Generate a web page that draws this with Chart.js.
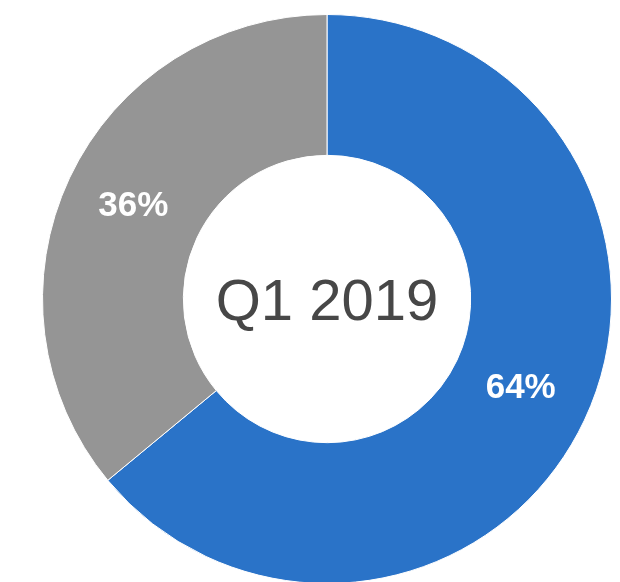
<!DOCTYPE html>
<html>
<head>
<meta charset="utf-8">
<script src="https://cdn.jsdelivr.net/npm/chart.js@4.4.1/dist/chart.umd.min.js"></script>
<style>
  html, body { margin: 0; padding: 0; background: #fff; overflow: hidden; width: 620px; height: 582px; }
  #wrap { position: absolute; left: 42px; top: 14px; width: 570px; height: 570px; }
</style>
</head>
<body>
<div id="wrap"><canvas id="donut"></canvas></div>
<script>
const labels = ['A', 'B'];
const values = [64, 36];
const colors = ['#2a73c8', '#959595'];
const centerText = 'Q1 2019';

// percent labels in the middle of each ring slice
const sliceLabels = {
    id: 'sliceLabels',
    afterDatasetsDraw(chart) {
        const ctx = chart.ctx;
        const meta = chart.getDatasetMeta(0);
        const total = values.reduce((a, b) => a + b, 0);
        ctx.save();
        ctx.fillStyle = '#ffffff';
        ctx.font = 'bold 35px "Liberation Sans", Arial, sans-serif';
        ctx.textAlign = 'center';
        ctx.textBaseline = 'middle';
        meta.data.forEach((arc, i) => {
            const pos = arc.tooltipPosition();
            ctx.fillText(Math.round(values[i] / total * 100) + '%', pos.x, pos.y - 2);
        });
        ctx.restore();
    }
};

const centerLabel = {
    id: 'centerLabel',
    afterDraw(chart) {
        const ctx = chart.ctx;
        const arc = chart.getDatasetMeta(0).data[0];
        ctx.save();
        ctx.fillStyle = '#474747';
        ctx.font = '58px "Liberation Sans", Arial, sans-serif';
        ctx.textAlign = 'center';
        ctx.textBaseline = 'middle';
        ctx.fillText(centerText, arc.x, arc.y + 5);
        ctx.restore();
    }
};

new Chart(document.getElementById('donut'), {
    type: 'doughnut',
    data: {
        labels: labels,
        datasets: [{
            data: values,
            backgroundColor: colors,
            borderColor: '#ffffff',
            borderWidth: 1
        }]
    },
    options: {
        responsive: true,
        maintainAspectRatio: false,
        animation: false,
        cutout: '50.5%',
        layout: { padding: 0 },
        plugins: {
            legend: { display: false },
            tooltip: { enabled: false }
        }
    },
    plugins: [sliceLabels, centerLabel]
});
</script>
</body>
</html>
